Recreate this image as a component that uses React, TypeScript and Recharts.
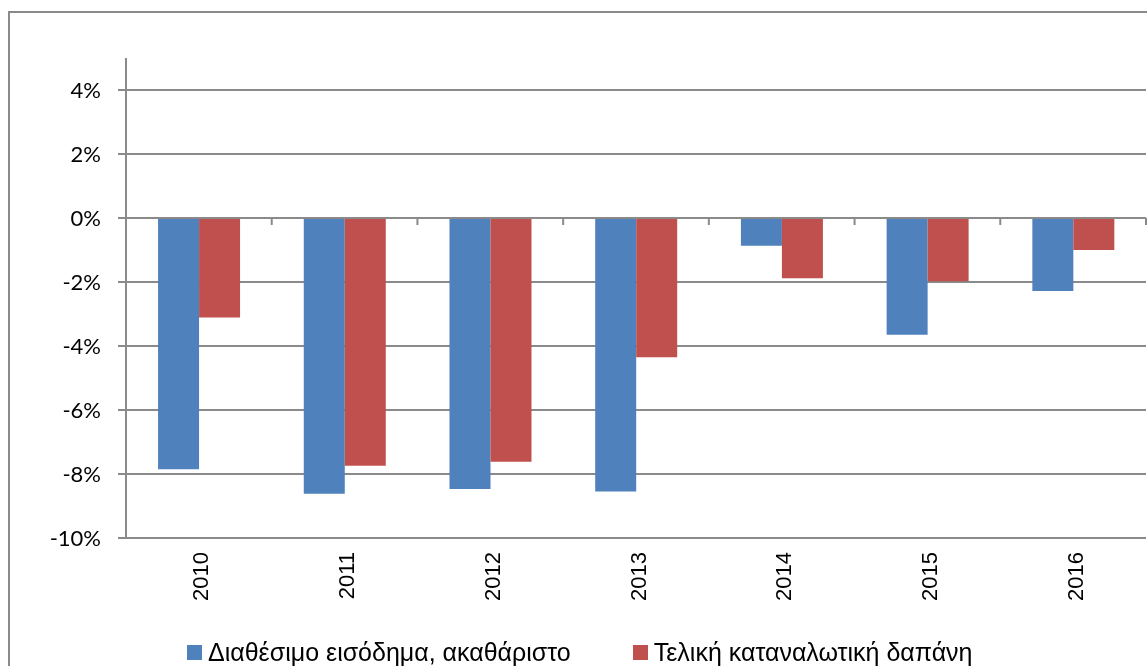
import React from 'react';
import { BarChart, Bar, XAxis, YAxis, CartesianGrid, ReferenceLine } from 'recharts';

const years = ['2010', '2011', '2012', '2013', '2014', '2015', '2016'];
const disposableIncome = [-7.85, -8.62, -8.47, -8.55, -0.87, -3.65, -2.28];
const consumptionSpending = [-3.11, -7.74, -7.62, -4.35, -1.88, -1.98, -1.0];
const yTicks = [-10, -8, -6, -4, -2, 0, 2, 4];

const seriesNames = ['Διαθέσιμο εισόδημα, ακαθάριστο', 'Τελική καταναλωτική δαπάνη'];
const seriesColors = ['#4F81BD', '#C0504D'];

const data = years.map((year, i) => ({
  year,
  income: disposableIncome[i],
  spending: consumptionSpending[i]
}));

const axisColor = '#8a8a8a';

// the 0% line is the category axis in the original, with small ticks between groups
const ZeroAxis = (props: any) => {
  const { x1, x2, y1 } = props;
  const step = (x2 - x1) / years.length;
  const marks = [];
  for (let i = 0; i <= years.length; i++) {
    const x = x1 + step * i;
    marks.push(<line key={i} x1={x} x2={x} y1={y1} y2={y1 + 7} stroke={axisColor} strokeWidth={2} />);
  }
  return (
    <g>
      <line x1={x1 - 8} x2={x2} y1={y1} y2={y1} stroke={axisColor} strokeWidth={2} />
      {marks}
    </g>
  );
};

const YearTick = (props: any) => {
  const { x, y, payload } = props;
  const tx = x + 2;
  const ty = y + 6;
  return (
    <text
      x={tx}
      y={ty}
      transform={`rotate(-90, ${tx}, ${ty})`}
      textAnchor="end"
      dominantBaseline="central"
      fontFamily="'Liberation Sans', Arial, sans-serif"
      fontSize={22}
      fill="#000"
    >
      {payload.value}
    </text>
  );
};

export default function App() {
  return (
    <div style={{ position: 'fixed', left: 8, top: 8, width: 1139, height: 658, overflow: 'hidden' }}>
      <div
        style={{
          position: 'absolute',
          left: 0,
          top: 3,
          width: 1200,
          height: 720,
          border: `2px solid ${axisColor}`,
          boxSizing: 'border-box'
        }}
      />
      <div style={{ position: 'absolute', left: 0, top: 0 }}>
        <BarChart
          width={1139}
          height={658}
          data={data}
          margin={{ top: 50, right: 1, bottom: 120, left: 0 }}
          barCategoryGap="22%"
          barGap={0}
        >
          <CartesianGrid
            horizontal
            vertical={false}
            horizontalValues={yTicks}
            stroke={axisColor}
            strokeWidth={2}
          />
          <XAxis
            dataKey="year"
            axisLine={false}
            tickLine={false}
            tick={<YearTick />}
            height={8}
            interval={0}
          />
          <YAxis
            type="number"
            domain={[-10, 5]}
            ticks={yTicks}
            width={118}
            axisLine={{ stroke: axisColor, strokeWidth: 2 }}
            tickLine={{ stroke: axisColor, strokeWidth: 2 }}
            tickSize={8}
            tickMargin={17}
            tickFormatter={(v: number) => `${v}%`}
            tick={{ fill: '#000', fontSize: 22, fontFamily: 'Lato, sans-serif' }}
          />
          <Bar dataKey="income" fill={seriesColors[0]} isAnimationActive={false} />
          <Bar dataKey="spending" fill={seriesColors[1]} isAnimationActive={false} />
          <ReferenceLine y={0} shape={<ZeroAxis />} />
        </BarChart>
      </div>
      <div
        style={{
          position: 'absolute',
          left: 179,
          top: 630,
          display: 'flex',
          alignItems: 'center',
          fontFamily: "'Liberation Sans', Arial, sans-serif",
          fontSize: 25,
          color: '#000',
          whiteSpace: 'nowrap'
        }}
      >
        {seriesNames.map((name, i) => (
          <div key={name} style={{ display: 'flex', alignItems: 'center', marginRight: i === 0 ? 62 : 0 }}>
            <span style={{ display: 'inline-block', width: 15, height: 15, background: seriesColors[i], marginRight: 6 }} />
            <span>{name}</span>
          </div>
        ))}
      </div>
    </div>
  );
}
